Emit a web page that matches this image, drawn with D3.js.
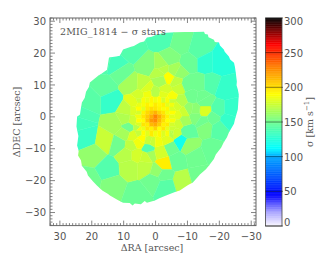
<!DOCTYPE html>
<html>
<head>
<meta charset="utf-8">
<script src="https://cdn.jsdelivr.net/npm/d3@7"></script>
<style>
  html, body { margin: 0; padding: 0; background: #fff; }
  svg { display: block; }
  text { font-family: "DejaVu Sans", sans-serif; fill: #555; }
  .serif { font-family: "DejaVu Serif", serif; }
</style>
</head>
<body>
<svg id="chart" width="332" height="266"></svg>
<script>
// voronoi bins: RA, DEC (arcsec) and sigma (km/s)
var binRa = [
  12.2, 15.9, 13.8, 20.6, 22.7, 7.5, 2.3, 7.5, 17, 11,
  -2, -7.8, -13.6, -19.9, -15.7, -10.4, -4.7, -1.6, -7.3, -4.2,
  -1, -1.6, -7.3, -9.9, -13.6, -17.2, -21.9, -14.6, -15.2, -19.9,
  -23.5, -11.5, -10.4, -7.8, -12.5, 21.6, 23, 15.8, 19.5, 11.6,
  14.8, 21, 13.2, 5.9, 8, 3.3, 0.7, 9, 5.9, 1.7,
  12.7, 8.5, 5.4, 9.6, 7, 4.3, 2.2, 0.7, -7.8, -10.4,
  -5.2, -10, -15.7, -19.9, -22.5, -4.7, -2.6, -0.5, -6.8, -12.5,
  -17.8, -8.4, -3, -13.6, 4, -3,
  -2, -6, -15.2, -18, -15, -12.5, -6.5, 7.5, -1.5, 3,
  -2.6,
  // ring round the core
  7, 7, 6.5, 5, 2.5, 0, -2.5, -5, -6.5, -7,
  -7, -6, -3.5, -0.5, 2, 5.5, 3, -9, -9, 9,
  9.5
];
var binDec = [
  15.9, 9.6, 4.9, 4.9, 0, 10.1, 15.9, 21, 17, 14,
  24.3, 22.7, 21.1, 17, 17, 17, 18.5, 16, 13.8, 12.2,
  13.8, 11.2, 9.1, 10.2, 10.2, 10.2, 8.6, 6, 1.8, 2.3,
  2.3, 6.5, 2.3, 4.9, 0.2, -6.5, -1, -7.5, -11.7, -8.6,
  -16.4, -20, -21.6, -24.2, -15.9, -15.9, -20, -11.7, -11.7, -11.7,
  -2.3, -3.3, -3.3, -5.2, -6, -6.5, -10.1, -7.5, -7.7, -9,
  -4.9, -4.4, -2.8, -3.3, -1, -9.6, -14.8, -17, -13.8, -12.7,
  -10.7, -20, -21.6, -18.5, 10, 8.5,
  15, 14.5, 5, -0.5, -1.5, 2, 11, -9, -11, -12.5,
  -18.2,
  2, -1, 4.5, 6.5, 7, 7.5, 7, 6, 3.5, 0.5,
  -2, -5, -7, -7.5, -7, -8, 9, -1, 1.5, 2,
  -0.5
];
var binSigma = [
  135, 145, 130, 142, 138, 165, 155, 140, 140, 148,
  138, 150, 142, 125, 128, 148, 155, 165, 160, 190,
  170, 165, 175, 150, 150, 140, 130, 150, 180, 140,
  130, 150, 160, 170, 155, 132, 135, 175, 160, 150,
  140, 150, 155, 148, 170, 172, 150, 170, 178, 165,
  165, 150, 170, 165, 180, 190, 140, 175, 118, 160,
  170, 145, 155, 142, 130, 150, 195, 160, 148, 150,
  148, 170, 142, 150, 172, 178,
  170, 165, 150, 148, 150, 158, 172, 172, 178, 175,
  150,
  180, 176, 182, 178, 186, 170, 182, 188, 178, 182,
  176, 176, 182, 186, 175, 186, 180, 165, 176, 172,
  168
];

// the core bins are small, nearly one square per spaxel
var coreRa = [5, 3.75, 2.5, 1.25, 0, -1.25, -2.5, -3.75, -5];
var coreDec = [5, 3.75, 2.5, 1.25, 0, -1.25, -2.5, -3.75, -5];
var coreSigma = [
  176, 188, 184, 192, 186, 190, 178, 188, 174,
  184, 188, 194, 190, 196, 192, 194, 182, 186,
  190, 182, 196, 200, 198, 194, 188, 192, 180,
  178, 194, 202, 208, 214, 204, 198, 186, 190,
  186, 198, 206, 216, 228, 216, 204, 194, 182,
  190, 192, 208, 222, 226, 212, 200, 190, 188,
  180, 198, 196, 212, 216, 206, 194, 196, 178,
  188, 184, 198, 194, 204, 190, 198, 184, 176,
  174, 190, 182, 196, 186, 192, 180, 188, 170
];

// edge of the covered field, a bit ragged like the spaxels
var edgeRa = [
  4.9, 3.6, 2.7, 1.2, -0.4, -3.3, -6.2, -9.2, -12.4, -15.2,
  -15.5, -16.4, -16.6, -18.3, -18.6, -19.9, -20.2, -21.4, -21.7, -23,
  -23.4, -24.6, -24.9, -25.1, -25.5, -25.4, -25.8, -26.1, -26, -25.8,
  -24.9, -24.6, -23, -22.4, -21.4, -20.6, -18.9, -18.3, -16.7, -15.8,
  -13.9, -13.1, -11.7, -10.2, -7.6, -6.1, -3.3, -1.2, 0.2, 2.7,
  3.4, 4.6, 6.5, 7.2, 8.1, 10.2, 12, 14.3, 15, 16.6,
  18.4, 19.6, 21.2, 21.6, 23.1, 23.4, 24.3, 24.1, 24.6, 24.2,
  24.8, 24.6, 23.7, 23.4, 23.1, 22.2, 21.8, 20.9, 20.6, 18,
  17.2, 15.2, 14.6, 12.4, 11.2, 10.2, 7.7, 6.8
];
var edgeDec = [
  23.3, 23.6, 24.9, 25.1, 25.8, 26.4, 26.5, 26.6, 26.6, 26.7,
  26, 25.8, 25, 24.2, 23.5, 23.3, 22.4, 21.1, 20.4, 18.9,
  18, 17, 15.6, 14.2, 11.1, 9.9, 8.6, 7, 5.4, 2.3,
  -0.8, -2.2, -4.9, -6.4, -8, -9.6, -11.8, -13.2, -15.3, -16.4,
  -18.1, -19, -20.6, -21.4, -23.1, -23.6, -24.7, -25.5, -26.2, -26.9,
  -26.4, -27.4, -27.2, -27.8, -27, -26.9, -26, -24.7, -24.1, -23.2,
  -21.5, -20.3, -18.4, -17.2, -15.3, -13.6, -12.1, -10.6, -9, -6,
  -3, 0, 0.7, 2.7, 4.5, 6, 7.9, 9.4, 10.8, 12.9,
  13.4, 14.8, 18.6, 18.9, 19.2, 21.1, 22, 22.2
];

var raTicks = [30, 20, 10, 0, -10, -20, -30];
var decTicks = [-30, -20, -10, 0, 10, 20, 30];
var barTicks = [0, 50, 100, 150, 200, 250, 300];

// colour table of the bar
var tableValues = [0, 20, 45, 75, 100, 112, 150, 190, 225, 262, 300];
var tableColors = ["#fbf8ff", "#a9a4ff", "#0000ff", "#0060ff", "#00a8ff", "#00ffff",
  "#70ff90", "#ffff00", "#ff9000", "#ff0000", "#000000"];

var svg = d3.select("#chart");
var axisColor = "#666";

var x = d3.scaleLinear().domain([33.1, -31.5]).range([50, 256]);
var y = d3.scaleLinear().domain([31, -34.1]).range([18, 225.6]);
var barY = d3.scaleLinear().domain([0, 300]).range([226, 18]);
var color = d3.scaleLinear().domain(tableValues).range(tableColors).clamp(true);

// map
var corePoints = d3.cross(coreDec, coreRa).map(function(d) { return [x(d[1]), y(d[0])]; });
var points = binRa.map(function(d, i) { return [x(d), y(binDec[i])]; }).concat(corePoints);
var sigmas = binSigma.concat(coreSigma);
var voronoi = d3.Delaunay.from(points).voronoi([50, 18, 256, 226]);

var edge = edgeRa.map(function(d, i) { return [x(d), y(edgeDec[i])]; });
svg.append("clipPath").attr("id", "field")
  .append("path").attr("d", "M" + edge.join("L") + "Z");

svg.append("g").attr("clip-path", "url(#field)")
  .selectAll("path")
  .data(sigmas)
  .join("path")
  .attr("d", function(d, i) { return voronoi.renderCell(i); })
  .attr("fill", function(d) { return color(d); })
  .attr("stroke", function(d) { return color(d); })
  .attr("stroke-width", 0.4);

// axes, major ticks every 10 and minor ticks every 1
var minor = d3.range(-34, 34);
function drawAxis(scale, majors, pos, sign, horizontal) {
  var g = svg.append("g").attr("fill", "none").attr("stroke", axisColor).attr("stroke-width", 0.8);
  minor.filter(function(d) { return scale(d) >= scale.range()[0] && scale(d) <= scale.range()[1]; })
    .forEach(function(d) {
      var len = majors.indexOf(d) >= 0 ? 5 : 2.5;
      if (horizontal) g.append("line").attr("x1", scale(d)).attr("x2", scale(d)).attr("y1", pos).attr("y2", pos + sign * len);
      else g.append("line").attr("y1", scale(d)).attr("y2", scale(d)).attr("x1", pos).attr("x2", pos + sign * len);
    });
}
drawAxis(x, raTicks, 225.6, -1, true);
drawAxis(x, raTicks, 18, 1, true);
drawAxis(y, decTicks, 50, 1, false);
drawAxis(y, decTicks, 256, -1, false);

svg.append("rect").attr("x", 50).attr("y", 18).attr("width", 206).attr("height", 207.6)
  .attr("fill", "none").attr("stroke", axisColor).attr("stroke-width", 1);

function label(v) { return v < 0 ? "\u2212" + (-v) : "" + v; }

svg.append("g").selectAll("text").data(raTicks).join("text")
  .attr("x", function(d) { return x(d); })
  .attr("y", 240)
  .attr("text-anchor", "middle")
  .attr("font-size", 10)
  .text(label);

svg.append("g").selectAll("text").data(decTicks).join("text")
  .attr("x", 46)
  .attr("y", function(d) { return y(d) + 3.6; })
  .attr("text-anchor", "end")
  .attr("font-size", 10)
  .text(label);

// colour bar
svg.append("g").selectAll("rect").data(d3.range(0, 300)).join("rect")
  .attr("x", 265.5)
  .attr("width", 16.5)
  .attr("y", function(d) { return barY(d + 1); })
  .attr("height", barY(0) - barY(1) + 0.4)
  .attr("fill", function(d) { return color(d); });

svg.append("rect").attr("x", 265.5).attr("y", 18).attr("width", 16.5).attr("height", 208)
  .attr("fill", "none").attr("stroke", "#444").attr("stroke-width", 0.8);

svg.append("g").selectAll("line").data(barTicks).join("line")
  .attr("x1", 265.5).attr("x2", 283)
  .attr("y1", function(d) { return barY(d); })
  .attr("y2", function(d) { return barY(d); })
  .attr("stroke", "#000").attr("stroke-opacity", 0.45);

svg.append("g").selectAll("text").data(barTicks).join("text")
  .attr("x", 284)
  .attr("y", function(d) { return barY(d) + (d == 300 ? 7 : d == 0 ? 0 : 4); })
  .attr("font-size", 10)
  .text(function(d) { return d; });

// titles
svg.append("text").attr("class", "serif").attr("x", 60).attr("y", 35)
  .attr("font-size", 9.5).attr("textLength", 106).text("2MIG_1814 \u2212 \u03c3 stars");

svg.append("text").attr("class", "serif").attr("x", 152).attr("y", 251)
  .attr("text-anchor", "middle").attr("font-size", 9.5).text("\u0394RA [arcsec]");

svg.append("text").attr("class", "serif")
  .attr("transform", "translate(20,122) rotate(-90)")
  .attr("text-anchor", "middle").attr("font-size", 9.5).text("\u0394DEC [arcsec]");

var barLabel = svg.append("text").attr("class", "serif")
  .attr("transform", "translate(313,122) rotate(-90)")
  .attr("text-anchor", "middle").attr("font-size", 9.5);
barLabel.append("tspan").text("\u03c3 [km s");
barLabel.append("tspan").attr("dy", -4).attr("font-size", 7).text("\u22121");
barLabel.append("tspan").attr("dy", 4).text("]");
</script>
</body>
</html>
